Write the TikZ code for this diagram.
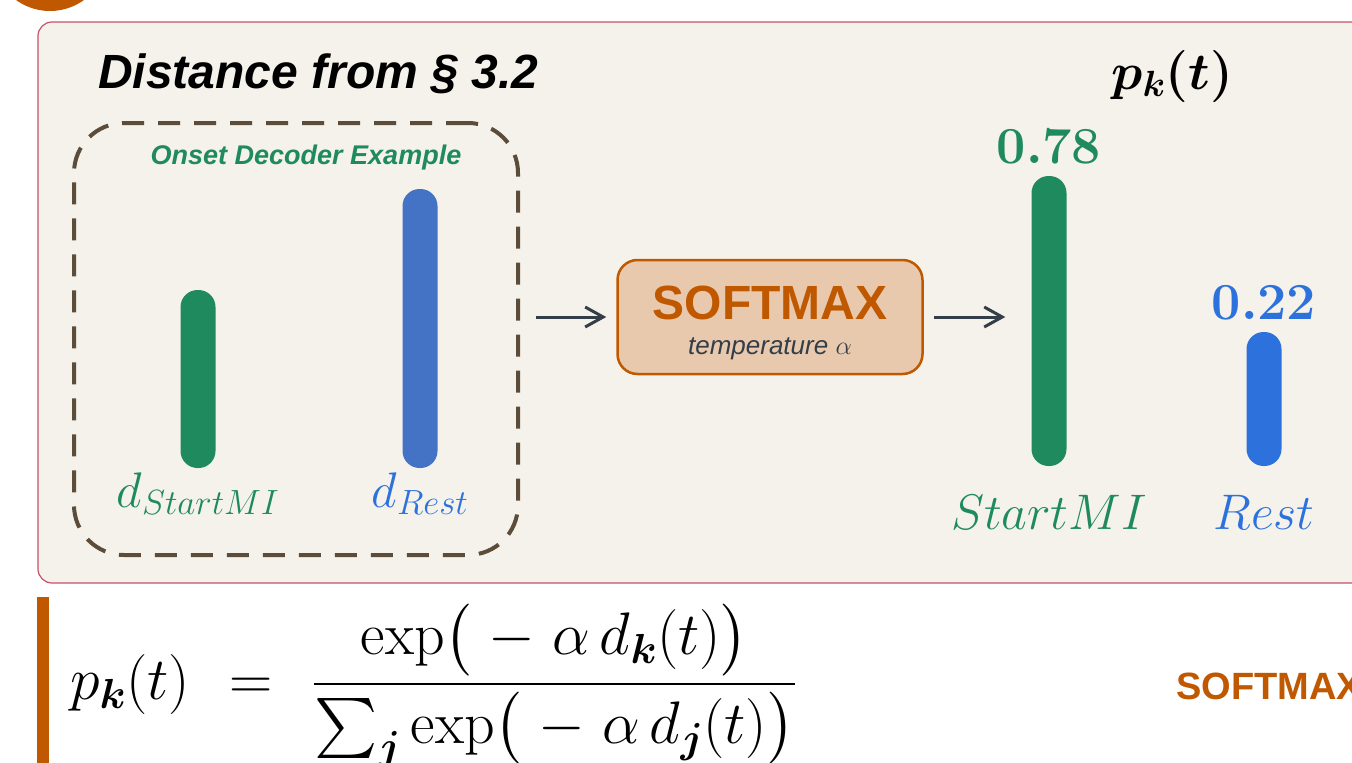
\RequirePackage{fix-cm}
\documentclass[tikz,border=0pt]{standalone}
\usepackage{amsmath,amssymb}
\usepackage{fontspec}
\setsansfont{Liberation Sans}
\usepackage{tikz}
\usetikzlibrary{positioning, arrows.meta, shapes}
\definecolor{naranja}{RGB}{192, 88, 0}
\definecolor{durazno}{RGB}{233, 201, 173}
\definecolor{crema}{RGB}{245, 242, 235}
\definecolor{rojizo}{RGB}{196, 82, 104}
\definecolor{marron}{RGB}{92, 77, 58}
\definecolor{verde}{RGB}{31, 138, 94}
\definecolor{azulbar}{RGB}{68, 114, 196}
\definecolor{azul}{RGB}{45, 114, 220}
\definecolor{pizarra}{RGB}{52, 62, 72}
\tikzset{
    panel/.style={fill=crema, draw=rojizo, line width=1.2pt, rounded corners=14pt},
    tit/.style={font=\sffamily\bfseries\itshape\fontsize{48}{58}\selectfont, inner sep=0pt},
    ej/.style={draw=marron, line width=4pt, dash pattern=on 22pt off 14pt, rounded corners=50pt, minimum width=444pt, minimum height=432pt},
    ejtit/.style={font=\sffamily\bfseries\itshape\fontsize{27}{32}\selectfont, text=verde, inner sep=0pt},
    bar/.style={rectangle, rounded corners=17pt, minimum width=35pt, inner sep=0pt},
    lab/.style={font=\fontsize{50}{60}\selectfont, inner sep=0pt},
    num/.style={font=\fontsize{52}{62}\selectfont, inner sep=0pt},
    caja/.style={draw=naranja, fill=durazno, line width=2.5pt, rounded corners=20pt, minimum width=305pt, minimum height=114pt},
    smtit/.style={font=\sffamily\bfseries\fontsize{48}{58}\selectfont, text=naranja, inner sep=0pt},
    smsub/.style={font=\sffamily\itshape\fontsize{26}{31}\selectfont, text=pizarra, inner sep=0pt},
    flecha/.style={-{Straight Barb[length=18pt, width=20pt]}, pizarra, line width=3pt},
}
\begin{document}
\begin{tikzpicture}[x=1pt, y=-1pt]
    \useasboundingbox (0,0) rectangle (1352,763);
    \clip (0,0) rectangle (1352,763);
    \fill[naranja] (50,-47) circle (58);
    \draw[panel] (38,22) rectangle (1400,583);
    \node[tit, anchor=west] (tit) at (98,74) {Distance from § 3.2};

    \node[ej] (ej) at (296,339) {};
    \node[ejtit] (ejt) at (306,158) {Onset Decoder Example};
    \node[bar, fill=verde, minimum height=178pt] (dS) at (198,379) {};
    \node[bar, fill=azulbar, minimum height=279pt] (dR) at (420,328.5) {};
    \node[lab, text=verde, below=4pt of dS] (ldS) {$d_{StartMI}$};
    \node[lab, text=azul, below=4pt of dR] (ldR) {$d_{Rest}$};

    \node[caja] (sm) at (770,317) {};
    \node[smtit] (smt) at ([yshift=14pt]sm.center) {SOFTMAX};
    \node[smsub] (sms) at ([yshift=-32pt]sm.center) {temperature $\alpha$};

    \node[bar, fill=verde, minimum height=290pt] (pS) at (1049,321) {};
    \node[bar, fill=azul, minimum height=134pt] (pR) at (1264,399) {};
    \node[num, text=verde, above=12pt of pS] (nS) {$\boldsymbol{0.78}$};
    \node[num, text=azul, above=12pt of pR] (nR) {$\boldsymbol{0.22}$};
    \node[lab, text=verde, below=29pt of pS] (lS) {$StartMI$};
    \node[lab, text=azul, below=29pt of pR] (lR) {$Rest$};
    \node[num] (pkt) at (1172,76) {$\boldsymbol{p_{k}(t)}$};

    \draw[flecha, shorten <=16pt, shorten >=10pt] (ej.east |- sm.west) -- (sm.west);
    \draw[flecha, shorten <=10pt, shorten >=26pt] (sm.east) -- (sm.east -| pS.west);

    \fill[naranja] (37,597) rectangle (49,763);
    \node[inner sep=0pt, anchor=base west, font=\fontsize{60}{72}\selectfont] (form) at (70,699)
        {$\displaystyle p_{\boldsymbol{k}}(t)\mskip7mu=\mskip7mu\frac{\exp\bigl(\;-\;\alpha\, d_{\boldsymbol{k}}(t)\bigr)}{\sum_{\boldsymbol{j}}\exp\bigl(\;-\;\alpha\, d_{\boldsymbol{j}}(t)\bigr)}$};
    \node[smtit, font=\sffamily\bfseries\fontsize{38}{46}\selectfont, anchor=west] (smb) at (1176,686) {SOFTMAX};
\end{tikzpicture}
\end{document}
